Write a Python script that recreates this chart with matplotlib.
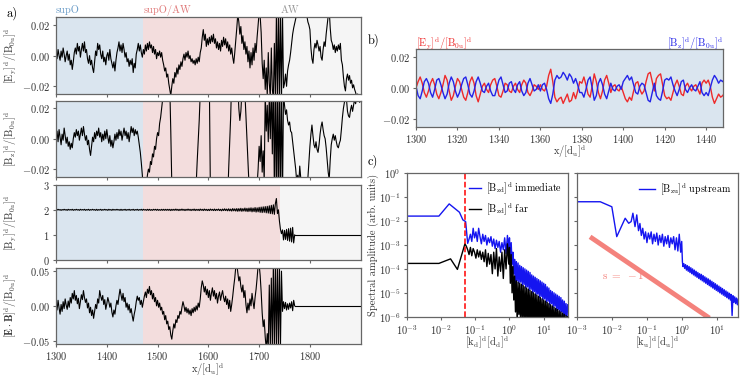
import numpy as np
import matplotlib
matplotlib.use("Agg")
import matplotlib.pyplot as plt
import matplotlib.transforms as mtransforms

plt.rcParams.update({
    "font.family": "serif",
    "font.serif": ["cmr10"],
    "mathtext.fontset": "cm",
    "axes.formatter.use_mathtext": True,
    "font.size": 7.5,
    "axes.edgecolor": "#666666",
    "axes.linewidth": 0.9,
    "xtick.color": "#666666",
    "ytick.color": "#666666",
    "xtick.labelcolor": "#333333",
    "ytick.labelcolor": "#333333",
    "axes.labelcolor": "#333333",
    "xtick.major.size": 2.5,
    "ytick.major.size": 2.5,
    "xtick.major.pad": 2.0,
    "ytick.major.pad": 2.0,
    "axes.labelpad": 3.0,
})

# --- panel a: regions ---
REGION_EDGES = [1300, 1472, 1742, 1900]
REGION_NAMES = ["supO", "supO/AW", "AW"]
REGION_FILLS = ["#dae5ef", "#f3dddd", "#f5f5f5"]
REGION_TEXT = ["#6a9cc8", "#e07a7a", "#9a9a9a"]

# --- panel a: traces, sampled every 2 d_u from x = 1300 (values in 1e-3 units) ---
EY_MILLI = [
    2, -2, 4, 0, -3, 3, -1, 5, 1, -4,          # 1300
    0, 3, -3, 1, -6, -3, -9, -4, 2, 5,          # 1320
    1, 8, 3, 6, -1, 4, 8, 3, 9, 2,              # 1340
    4, -2, -5, 0, -6, -3, -8, -11, -4, 3,       # 1360
    0, 8, 4, 7, 1, -2, 3, -4, -1, -6,           # 1380
    0, 2, -3, 4, -2, -5, -8, -4, -10, -3,       # 1400
    2, 5, 9, 3, 7, 2, 8, 4, -1, 2,              # 1420
    -4, -2, -7, -3, -6, -2, -11, -5, -8, 1,     # 1440
    4, 8, 3, 7, 2, -1, 4, 1, 7, 3,              # 1460
    8, 4, 9, 5, 7, 2, 6, 1, 4, -2,              # 1480
    2, 0, 3, -1, 2, -3, -6, -10, -8, -14,       # 1500
    -12, -18, -22, -26, -20, -15, -18, -11, -14, -8,  # 1520
    -12, -6, -9, -4, -7, -2, 1, -3, 2, -1,      # 1540
    3, -2, 0, -4, -2, -5, -3, -6, -2, -5,       # 1560
    -1, -4, 2, 5, 12, 17, 10, 14, 6, 11,        # 1580
    7, 12, 8, 13, 9, 14, 8, 11, 5, 9,           # 1600
    4, 8, 3, 10, 6, 12, 7, 11, 5, 9,            # 1620
    3, 7, 1, 5, -1, -5, 2, 10, 18, 27,          # 1640
    22, 14, 19, 8, 13, 4, 9, 1, 6, -4,          # 1660
    3, -8, 2, -6, 5, -3, 8, 2, 12, 20,          # 1680
    28, 26, 15, -5, -15, -3, -22, -8, -26, 2,   # 1700
    -18, -27, 5, -22, -28, 8, -28, 26, -30, 30, # 1720
    -30, 30, -30, 28, -21, -18, -12, -20, -10, -6,  # 1740
    -3, 2, 8, 14, 18, 21, 24, 27, 30, 28,       # 1760
    32, 30, 27, 30, 33, 28, 31, 26, 22, 20,     # 1780
    17, 5, -2, -5, 4, 8, 5, 10, 7, 3,           # 1800
    6, -1, -3, 4, 9, 6, 14, 20, 26, 30,         # 1820
    18, 10, 8, 4, 7, 2, 6, 3, 7, 4,             # 1840
    8, -3, -6, -14, -20, -23, -15, -12, -16, -13,   # 1860
    -18, -16, -21, -19, -22, -24, -27, -25, -28, -30,  # 1880
]

BZ_MILLI = [
    0, 5, -2, 6, 1, -4, 3, -1, 7, 2,            # 1300
    -3, 1, -5, -2, -7, -3, -6, 0, 4, 1,         # 1320
    6, 2, 5, -1, 3, 7, 2, 8, 3, -1,             # 1340
    2, -4, -1, -7, -11, -5, 1, -2, 4, 0,        # 1360
    5, 2, 7, 1, 4, -2, 3, -1, 5, 0,             # 1380
    6, 1, -3, 2, -5, -1, -6, -2, 3, -1,         # 1400
    4, 0, 6, 2, 5, -1, 3, 7, 2, 5,              # 1420
    0, 4, -2, 3, 8, 4, 7, 2, 6, 3,              # 1440
    5, 1, -4, -9, -16, -24, -35, -45, -40, -30, # 1460
    -24, -20, -22, -15, -17, -10, -12, -5, -7, 0,   # 1480
    4, 2, 10, 14, 20, 26, 35, 50, 60, 65,       # 1500
    60, 50, 35, 5, -30, -60, -70, -72, -75, -72,    # 1520
    -78, -74, -70, -68, -72, -66, -62, -65, -60, -58,  # 1540
    -62, -55, -52, -55, -50, -48, -44, -40, -30, -15,  # 1560
    -2, 12, 30, 50, 65, 70, 72, 70, 68, 65,     # 1580
    50, 35, -35, -70, -72, -75, -73, -76, -74, -70,  # 1600
    -72, -68, -70, -66, -64, -60, -58, -55, -50, -40,  # 1620
    -20, -3, 15, 40, 50, 60, 55, 45, 40, 35,    # 1640
    20, 12, 18, 30, 45, 40, 30, 15, 0, -15,     # 1660
    -30, -45, -55, -60, -55, -50, -45, -40, -30, -20,  # 1680
    -5, -15, 2, -22, -8, -28, 30, 5, 22, -2,    # 1700
    28, 0, 35, -10, 40, -35, 40, -40, 40, -40,  # 1720
    40, -40, 40, -40, 30, 22, 16, 19, 12, 9,    # 1740
    11, 5, 4, -2, -8, -14, -20, -28, -24, -30,  # 1760
    -18, -26, -32, -29, -35, -30, -28, -33, -26, -15,  # 1780
    -5, 3, 9, 2, -4, -6, -2, -7, -9, -4,        # 1800
    3, 8, 11, 6, 2, 0, -6, -14, -22, -27,       # 1820
    -14, -4, 0, 3, -1, 2, -2, -5, -6, -3,       # 1840
    -1, 6, 14, 20, 24, 28, 26, 18, 15, 14,      # 1860
    19, 22, 18, 22, 26, 23, 27, 25, 28, 24,     # 1880
]

BY_VALUES = [
    2.01, 1.99, 2.02, 1.99, 2.01, 1.98, 2.01, 1.99, 2.02, 1.99,  # 1300
    2.01, 1.98, 2.02, 1.99, 2.01, 1.99, 2.02, 1.98, 2.01, 1.99,  # 1320
    2.02, 1.99, 2.01, 1.98, 2.02, 1.99, 2.01, 1.99, 2.02, 1.98,  # 1340
    2.01, 1.99, 2.02, 1.98, 2.01, 1.99, 2.02, 1.99, 2.01, 1.98,  # 1360
    2.02, 1.98, 2.01, 1.99, 2.02, 1.98, 2.01, 1.99, 2.02, 1.99,  # 1380
    2.01, 1.98, 2.02, 1.99, 2.01, 1.98, 2.02, 1.99, 2.01, 1.99,  # 1400
    2.02, 1.99, 2.01, 1.98, 2.02, 1.98, 2.01, 1.99, 2.02, 1.98,  # 1420
    2.01, 1.99, 2.02, 1.98, 2.01, 1.99, 2.02, 1.98, 2.01, 1.99,  # 1440
    2.02, 1.98, 2.01, 1.99, 2.02, 1.98, 2.02, 1.99, 2.01, 1.98,  # 1460
    2.02, 1.98, 2.02, 1.98, 2.01, 1.98, 2.02, 1.99, 2.02, 1.98,  # 1480
    2.02, 1.98, 2.01, 1.98, 2.02, 1.98, 2.02, 1.98, 2.02, 1.98,  # 1500
    2.02, 1.98, 2.02, 1.97, 2.02, 1.98, 2.02, 1.98, 2.03, 1.98,  # 1520
    2.02, 1.97, 2.02, 1.98, 2.03, 1.98, 2.02, 1.97, 2.02, 1.98,  # 1540
    2.03, 1.98, 2.02, 1.97, 2.02, 1.98, 2.03, 1.97, 2.02, 1.98,  # 1560
    2.02, 1.97, 2.03, 1.98, 2.02, 1.97, 2.03, 1.98, 2.02, 1.97,  # 1580
    2.02, 1.97, 2.03, 1.98, 2.02, 1.97, 2.03, 1.97, 2.02, 1.98,  # 1600
    2.03, 1.97, 2.02, 1.96, 2.03, 1.97, 2.04, 1.97, 2.03, 1.96,  # 1620
    2.04, 1.96, 2.03, 1.95, 2.05, 1.96, 2.04, 1.95, 2.05, 1.94,  # 1640
    2.05, 1.95, 2.06, 1.94, 2.05, 1.95, 2.07, 1.94, 2.06, 1.93,  # 1660
    2.07, 1.94, 2.08, 1.92, 2.07, 1.93, 2.09, 1.91, 2.08, 1.92,  # 1680
    2.10, 1.90, 2.11, 1.89, 2.12, 1.90, 2.13, 1.88, 2.14, 1.87,  # 1700
    2.16, 1.85, 2.18, 1.84, 2.20, 1.82, 2.25, 2.45, 1.85, 2.00,  # 1720
    1.55, 1.22, 1.05, 1.20, 0.80, 1.18, 0.82, 1.22, 0.78, 1.25,  # 1740
    0.75, 1.27, 0.72, 1.30, 0.68, 1.00,                          # 1760
]
BY_TAIL_X = [1770, 1900]
BY_TAIL_Y = [1.0, 1.0]

EB_MILLI = [
    5, -6, 8, -3, -12, 2, -8, 6, -4, 10,        # 1300
    1, -5, 7, -2, 12, 4, 18, 10, 22, 8,         # 1320
    15, 3, 11, -4, 6, 16, 9, 22, 12, 5,         # 1340
    10, -3, 4, -10, -2, -14, -6, -18, -8, 2,    # 1360
    -4, 10, 4, 22, 14, 8, 15, 2, 9, -5,         # 1380
    3, 12, 6, -2, 4, -9, -16, -6, -12, 0,       # 1400
    8, 2, 14, 24, 16, 8, 18, 6, 12, -2,         # 1420
    4, -6, 2, -10, -4, -14, -22, -12, -5, 6,    # 1440
    14, 8, 12, 2, 8, -2, 6, 14, 20, 12,         # 1460
    24, 18, 28, 16, 22, 10, 18, 6, 12, 0,       # 1480
    8, -2, 4, -6, -2, -12, -8, -20, -14, -26,   # 1500
    -22, -34, -30, -42, -48, -36, -26, -32, -20, -24,  # 1520
    -14, -18, -8, -12, -2, 6, 0, -8, -2, -10,   # 1540
    -4, -12, -6, -14, -4, -10, -2, -8, 0, -6,   # 1560
    4, -2, 10, 26, 36, 30, 20, 28, 16, 24,      # 1580
    12, 22, 8, 18, 26, 14, 22, 10, 18, 4,       # 1600
    14, 20, 8, 16, 22, 12, 6, 14, 2, 10,        # 1620
    -4, 8, -8, 2, 14, 28, 40, 56, 60, 48,       # 1640
    36, 42, 28, 20, 30, 12, 22, 2, -10, 4,      # 1660
    -6, 10, 0, 18, 6, -4, 12, 24, 40, 58,       # 1680
    60, 44, 20, -10, -30, -20, -45, -62, -40, -60,  # 1700
    30, -60, 40, -60, 60, -60, 60, -60, 60, -60,    # 1720
    60, -60, 50, -8, 6, -4, 5, -6, 3, -5,       # 1740
    4, -3, 6, -7, 8, 0,                         # 1760
]
EB_TAIL_X = [1770, 1900]
EB_TAIL_Y = [0.0, 0.0]

# --- panel b: zoom on supO, sampled every 1 d_u from x = 1300 (1e-3 units) ---
EY_B_MILLI = [
    0, 4, 7, 3, -3, -6, -2, 3, 6, 2,
    -4, -7, -3, 2, 8, 5, -2, -8, -5, 1,
    6, 4, -1, -6, -8, -3, 4, 7, 3, -5,
    -9, -4, 1, 3, -1, -3, 2, 5, 6, 1,
    -5, -6, -2, 3, 2, -2, -3, 1, 3, -1,
    -3, 2, 5, 3, -3, -5, -2, 2, 1, -1,
    2, -1, -2, 1, 8, 12, 4, -6, -9, -7,
    -6, -10, -7, -4, -9, -8, -3, -7, -2, 4,
    3, 7, 2, -4, -6, 1, 9, 4, -3, -7,
    -2, 5, 8, 3, -3, 1, 2, -1, -2, 1,
    -3, -7, -9, -6, -8, -2, 3, 4, -1, -4,
    -2, 4, 9, 10, 4, -2, 6, 8, 9, 2,
    -5, -7, -6, -8, -3, 2, 5, 1, -4, -5,
    1, 3, 0, -2, 1, 2, -1, -4, 3, 5,
    3, 5, 1, -6, -10, -7, -4, -6, -5, -3,
    0, -3, -6, -4, -2, -5, -8, -6, -3, -4,
    -2,
]
BZ_B_MILLI = [
    1, -5, -7, -2, 4, 6, 3, -3, -6, -1,
    5, 6, 2, -3, -7, -4, 3, 7, 4, -2,
    -6, -3, 2, 6, 7, 2, -4, -6, -2, 4,
    7, 3, -2, -3, 1, 3, -2, -5, -5, 0,
    5, 7, 2, -3, -2, 3, 4, -1, -3, 2,
    4, -2, -5, -3, 3, 6, 2, -2, -1, 2,
    -2, 2, 3, -1, -7, -10, -4, 5, 8, 6,
    7, 10, 8, 5, 9, 7, 3, 6, 2, -3,
    -3, -6, -1, 5, 7, 0, -8, -5, 3, 6,
    2, -4, -7, -2, 3, -1, -2, 1, 2, -1,
    4, 6, 8, 5, 7, 2, -3, -4, 1, 3,
    2, -3, -8, -9, -3, 3, -5, -7, -8, -2,
    5, 6, 5, 7, 2, -2, -5, -1, 4, 5,
    -1, -3, 0, 2, -1, -2, 1, 4, -3, -5,
    -3, -5, 0, 5, 8, 6, 3, 5, 4, 6,
    1, 3, 5, 3, 2, 4, 7, 5, 3, 4,
    2,
]

# --- panel c: spectra, log10(k) and log10(amplitude) ---
IMM_HEAD_LOGK = [-3.05, -2.06, -1.76, -1.46, -1.36, -1.28, -1.22]
IMM_HEAD_LOGA = [-1.79, -1.79, -1.28, -1.63, -1.95, -2.02, -2.93]
IMM_MID_LOGA = [  # log10 k from -1.18 to -0.02
    -2.75, -2.55, -2.85, -2.30, -2.70, -2.45, -2.85, -2.30, -2.65, -2.95,
    -2.55, -2.85, -2.60, -3.00, -2.70, -2.90, -2.65, -3.05, -2.75, -3.15,
    -2.80, -3.10, -2.85, -3.30, -2.90, -3.20, -2.70, -3.35, -2.60, -3.20,
]
IMM_TAIL_LOGA = [  # log10 k from 0 to 1.7
    -2.70, -3.50, -2.90, -3.80, -3.30, -4.20, -3.60, -5.10, -3.70, -4.50,
    -3.75, -4.60, -3.85, -4.55, -3.90, -4.70, -3.95, -4.65, -4.00, -4.80,
    -4.05, -4.75, -4.10, -4.90, -4.15, -4.85, -4.25, -5.00, -4.30, -4.95,
    -4.35, -5.10, -4.40, -5.05, -4.45, -5.20, -4.50, -5.15, -4.55, -5.30,
    -4.60, -5.25, -4.65, -5.40, -4.75, -5.35, -4.80, -5.50, -4.90, -5.45,
    -4.95, -5.60, -5.00, -5.55, -5.05, -5.75, -5.10, -5.70, -5.15, -5.85,
    -5.20, -5.80, -5.30, -6.00, -5.35, -5.95, -5.45, -6.10, -5.50,
]

FAR_HEAD_LOGK = [-3.05, -2.06, -1.72, -1.52, -1.30]
FAR_HEAD_LOGA = [-3.77, -3.77, -3.58, -4.02, -2.95]
FAR_MID_LOGA = [  # log10 k from -1.26 to -0.02
    -3.05, -3.20, -3.40, -3.10, -3.45, -3.15, -3.30, -3.55, -3.20, -3.50,
    -3.25, -3.60, -3.30, -3.70, -3.20, -3.90, -3.35, -3.80, -3.40, -4.20,
    -3.30, -4.00, -3.15, -4.30, -3.50, -4.10, -3.30, -4.40, -3.20, -4.00,
    -2.95, -3.80,
]
FAR_TAIL_LOGA = [  # log10 k from 0 to 1.7
    -3.10, -4.60, -3.40, -5.00, -3.90, -5.30, -4.30, -5.80, -4.50, -6.30,
    -4.55, -5.90, -4.60, -6.40, -4.65, -6.00, -4.70, -6.50, -4.75, -6.10,
    -4.80, -6.40, -4.85, -6.20, -4.90, -6.50, -4.95, -6.30, -5.00, -6.50,
    -5.05, -6.30, -5.10, -6.60, -5.15, -6.40, -5.20, -6.60, -5.25, -6.40,
    -5.30, -6.60, -5.35, -6.50, -5.40, -6.70, -5.45, -6.50, -5.50, -6.70,
    -5.55, -6.50, -5.60, -6.70, -5.65, -6.50, -5.70, -6.80, -5.75, -6.60,
    -5.80, -6.80, -5.85, -6.60, -5.90, -6.80, -5.95, -6.70, -6.00,
]

UP_HEAD_LOGK = [-3.05, -2.33, -2.00, -1.86, -1.62, -1.52, -1.45, -1.40, -1.34, -1.29]
UP_HEAD_LOGA = [-1.19, -1.19, -1.40, -2.65, -1.88, -2.09, -2.02, -1.67, -2.23, -1.74]
UP_MID_LOGA = [  # log10 k from -1.24 to -0.04
    -2.40, -2.10, -2.60, -2.30, -2.75, -2.45, -2.90, -2.50, -2.75, -2.45,
    -2.95, -2.55, -2.85, -2.50, -3.00, -2.60, -2.90, -2.55, -3.05, -2.65,
    -2.95, -2.60, -3.10, -2.70, -2.95, -2.65, -3.20, -2.70, -3.25, -2.55,
    -3.30,
]
UP_STEP_LOGK = [-0.01, 0.01]
UP_STEP_LOGA = [-2.85, -3.70]
UP_TAIL_LOGA = [  # log10 k from 0.025 to 1.625
    -3.90, -3.78, -3.98, -3.82, -4.05, -3.86, -4.10, -3.90, -4.15, -3.95,
    -4.20, -4.00, -4.25, -4.05, -4.30, -4.10, -4.35, -4.15, -4.40, -4.20,
    -4.45, -4.23, -4.50, -4.28, -4.55, -4.33, -4.60, -4.38, -4.65, -4.42,
    -4.70, -4.47, -4.75, -4.52, -4.80, -4.57, -4.85, -4.62, -4.90, -4.67,
    -4.95, -4.72, -5.00, -4.77, -5.05, -4.82, -5.10, -4.87, -5.15, -4.92,
    -5.20, -4.97, -5.25, -5.02, -5.30, -5.07, -5.95, -5.12, -5.40, -5.17,
    -5.45, -5.22, -5.50, -5.25, -5.40,
]

K_CUT = 0.05
SLOPE_K = [2.4e-3, 6.0]
SLOPE_AMP = [2.2e-3, 8.8e-7]

X_TICKS_A = [1300, 1400, 1500, 1600, 1700, 1800]
X_TICKS_B = [1300, 1320, 1340, 1360, 1380, 1400, 1420, 1440]

LBL = r"/[\mathrm{B_{0u}}]^{\mathrm{d}}$"
XLBL = r"$\mathrm{x}/[\mathrm{d_u}]^{\mathrm{d}}$"


def main():
    fig = plt.figure(figsize=(7.53, 3.77), dpi=100)

    left, width = 0.0744, 0.4046
    ax1 = fig.add_axes([left, 0.7507, width, 0.2034])
    ax2 = fig.add_axes([left, 0.5313, width, 0.2016])
    ax3 = fig.add_axes([left, 0.3103, width, 0.1997])
    ax4 = fig.add_axes([left, 0.0875, width, 0.2024])
    axes_a = [ax1, ax2, ax3, ax4]

    x_a = 1300 + 2 * np.arange(len(EY_MILLI))
    x_by = 1300 + 2 * np.arange(len(BY_VALUES))

    for ax in axes_a:
        for i in range(3):
            ax.axvspan(REGION_EDGES[i], REGION_EDGES[i + 1], color=REGION_FILLS[i], lw=0, zorder=0)
        ax.set_xlim(1300, 1900)
        ax.set_xticks(X_TICKS_A)

    ax1.plot(x_a, np.array(EY_MILLI) * 1e-3, color="black", lw=0.8)
    ax2.plot(x_a, np.array(BZ_MILLI) * 1e-3, color="black", lw=0.8)
    ax3.plot(x_by, BY_VALUES, color="black", lw=0.8)
    ax3.plot(BY_TAIL_X, BY_TAIL_Y, color="black", lw=0.8)
    ax4.plot(x_by, np.array(EB_MILLI) * 1e-3, color="black", lw=0.8)
    ax4.plot(EB_TAIL_X, EB_TAIL_Y, color="black", lw=0.8)

    ax1.set_ylim(-0.025, 0.025)
    ax2.set_ylim(-0.025, 0.025)
    ax3.set_ylim(0, 3)
    ax4.set_ylim(-0.055, 0.055)
    ax1.set_yticks([-0.02, 0.0, 0.02])
    ax2.set_yticks([-0.02, 0.0, 0.02])
    ax3.set_yticks([0, 1, 2, 3])
    ax4.set_yticks([-0.05, 0.0, 0.05])

    ax1.set_ylabel(r"$[\mathrm{E_y}]^{\mathrm{d}}" + LBL)
    ax2.set_ylabel(r"$[\mathrm{B_z}]^{\mathrm{d}}" + LBL)
    ax3.set_ylabel(r"$[\mathrm{B_y}]^{\mathrm{d}}" + LBL)
    ax4.set_ylabel(r"$[\mathbf{E}\cdot\mathbf{B}]^{\mathrm{d}}" + LBL)
    for ax in axes_a:
        ax.yaxis.set_label_coords(-0.122, 0.5)
    for ax in axes_a[:3]:
        ax.tick_params(labelbottom=False)
    ax4.set_xlabel(XLBL)
    ax4.xaxis.set_label_coords(0.5, -0.225)

    trans = mtransforms.blended_transform_factory(ax1.transData, ax1.transAxes)
    for i in range(3):
        ax1.text(REGION_EDGES[i], 1.095, REGION_NAMES[i], color=REGION_TEXT[i],
                 transform=trans, ha="left", va="center")

    # panel b
    axb = fig.add_axes([0.5525, 0.6639, 0.4073, 0.2061])
    axb.set_facecolor(REGION_FILLS[0])
    x_b = 1300 + np.arange(len(EY_B_MILLI))
    axb.plot(x_b, np.array(EY_B_MILLI) * 1e-3, color="#ee2a2a", lw=1.0)
    axb.plot(x_b, np.array(BZ_B_MILLI) * 1e-3, color="#2323e8", lw=1.0)
    axb.set_xlim(1300, 1448)
    axb.set_ylim(-0.025, 0.025)
    axb.set_xticks(X_TICKS_B)
    axb.set_yticks([-0.02, 0.0, 0.02])
    axb.set_xlabel(XLBL)
    axb.xaxis.set_label_coords(0.5, -0.22)
    axb.text(0.0, 1.07, r"$[\mathrm{E_y}]^{\mathrm{d}}" + LBL, color="#ee2a2a",
             transform=axb.transAxes, ha="left", va="center")
    axb.text(1.0, 1.07, r"$[\mathrm{B_z}]^{\mathrm{d}}" + LBL, color="#2323e8",
             transform=axb.transAxes, ha="right", va="center")

    # panel c
    axc1 = fig.add_axes([0.5401, 0.1599, 0.2138, 0.3804])
    axc2 = fig.add_axes([0.7659, 0.1599, 0.2146, 0.3804])

    k_imm = 10 ** np.concatenate([IMM_HEAD_LOGK, np.linspace(-1.18, -0.02, len(IMM_MID_LOGA)),
                                  np.linspace(0.0, 1.7, len(IMM_TAIL_LOGA))])
    a_imm = 10 ** np.concatenate([IMM_HEAD_LOGA, IMM_MID_LOGA, IMM_TAIL_LOGA])
    k_far = 10 ** np.concatenate([FAR_HEAD_LOGK, np.linspace(-1.26, -0.02, len(FAR_MID_LOGA)),
                                  np.linspace(0.0, 1.7, len(FAR_TAIL_LOGA))])
    a_far = 10 ** np.concatenate([FAR_HEAD_LOGA, FAR_MID_LOGA, FAR_TAIL_LOGA])
    k_up = 10 ** np.concatenate([UP_HEAD_LOGK, np.linspace(-1.24, -0.04, len(UP_MID_LOGA)),
                                 UP_STEP_LOGK, np.linspace(0.025, 1.625, len(UP_TAIL_LOGA))])
    a_up = 10 ** np.concatenate([UP_HEAD_LOGA, UP_MID_LOGA, UP_STEP_LOGA, UP_TAIL_LOGA])

    axc1.loglog(k_imm, a_imm, color="#1515f0", lw=1.0,
                label=r"$[\mathrm{B_{zd}}]^{\mathrm{d}}$ immediate")
    axc1.loglog(k_far, a_far, color="black", lw=1.0,
                label=r"$[\mathrm{B_{zd}}]^{\mathrm{d}}$ far")
    axc1.axvline(K_CUT, color="red", ls="--", lw=1.1)
    axc1.set_xlim(1e-3, 50)
    axc1.set_ylim(1e-6, 1)
    axc1.set_ylabel("Spectral amplitude (arb. units)")
    axc1.yaxis.set_label_coords(-0.175, 0.5)
    axc1.set_xlabel(r"$[\mathrm{k_d}]^{\mathrm{d}}[\mathrm{d_d}]^{\mathrm{d}}$")
    axc1.legend(loc="upper right", frameon=False, fontsize=7.2, handlelength=1.2,
                handletextpad=0.5, borderaxespad=0.2, labelspacing=0.5)

    axc2.loglog(k_up, a_up, color="#1515f0", lw=1.0,
                label=r"$[\mathrm{B_{zu}}]^{\mathrm{d}}$ upstream")
    axc2.loglog(SLOPE_K, SLOPE_AMP, color="#f4827c", lw=3.5, solid_capstyle="butt")
    axc2.text(5.1e-3, 5.6e-5, r"$\mathrm{s}\ =\ -1$", color="#f4827c",
              ha="left", va="center", fontsize=8)
    axc2.set_xlim(1e-3, 40)
    axc2.set_ylim(1e-6, 1)
    axc2.tick_params(labelleft=False)
    axc2.set_xlabel(r"$[\mathrm{k_u}]^{\mathrm{d}}[\mathrm{d_u}]^{\mathrm{d}}$")
    axc2.legend(loc="upper right", frameon=False, fontsize=7.2, handlelength=1.6,
                handletextpad=0.5, borderaxespad=0.3)
    for ax in (axc1, axc2):
        ax.minorticks_off()
        ax.xaxis.set_label_coords(0.5, -0.13)

    fig.text(0.008, 0.9655, "a)", fontsize=9, va="center", ha="left")
    fig.text(0.488, 0.894, "b)", fontsize=9, va="center", ha="left")
    fig.text(0.488, 0.573, "c)", fontsize=9, va="center", ha="left")

    fig.savefig("out.png", dpi=100)
    plt.close(fig)


if __name__ == "__main__":
    main()
